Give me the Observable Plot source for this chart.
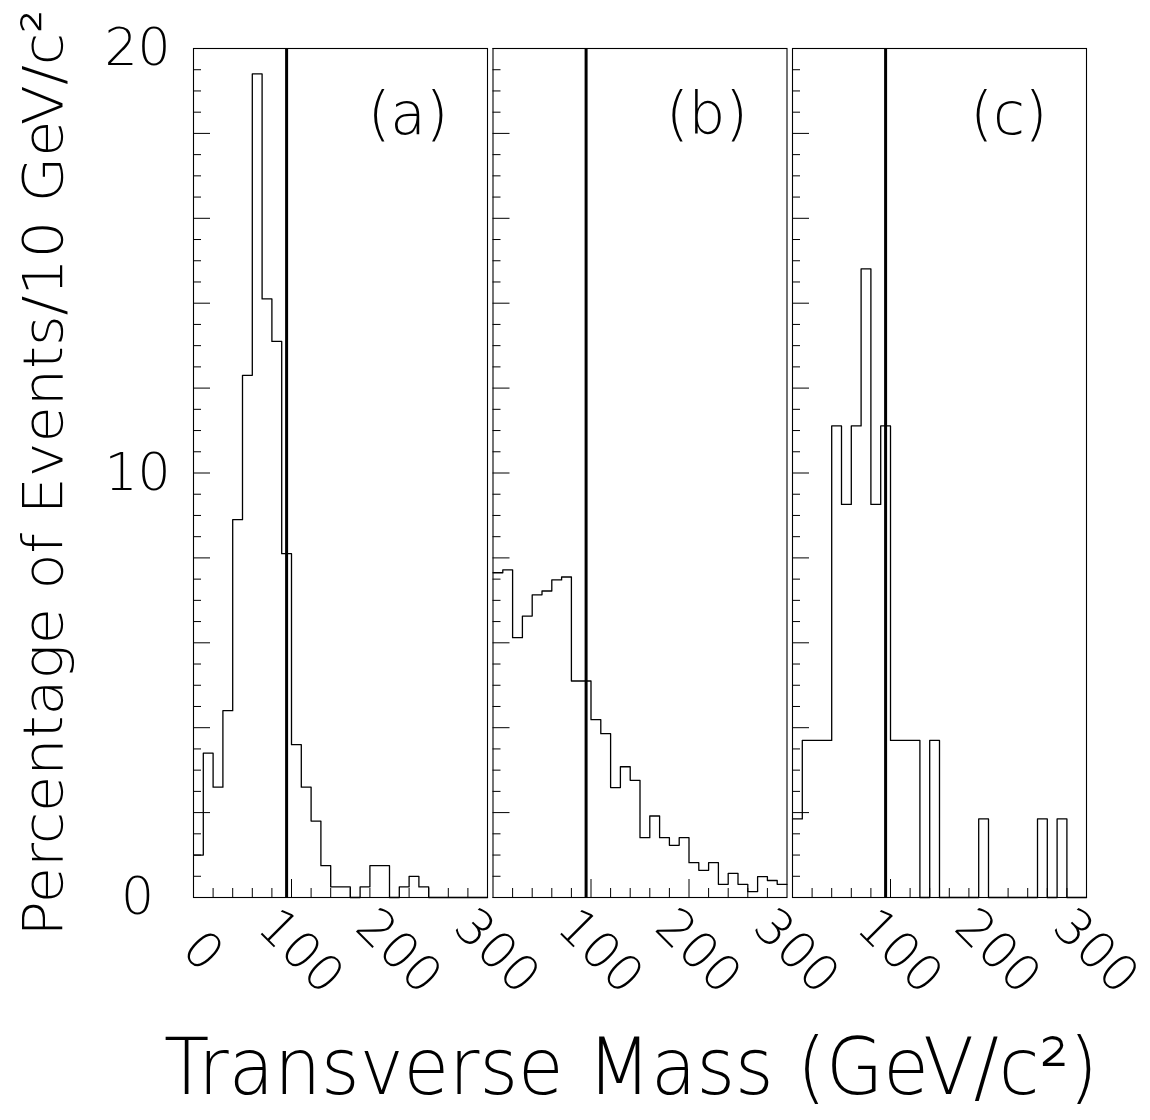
<!DOCTYPE html>
<html><head><meta charset="utf-8">
<script src="https://cdn.jsdelivr.net/npm/d3@7"></script>
<script src="https://cdn.jsdelivr.net/npm/@observablehq/plot@0.6"></script>
<style>body{margin:0;background:#fff} #chart svg{display:block}</style>
</head><body><div id="chart"></div>
<script>
// ---- data ----
const panels = ["a", "b", "c"];
const panelLabels = ["(a)", "(b)", "(c)"];
const binStart = [0, 10, 20, 30, 40, 50, 60, 70, 80, 90, 100, 110, 120, 130, 140, 150, 160, 170, 180, 190, 200, 210, 220, 230, 240, 250, 260, 270, 280, 290];
const binEnd = 300;
const panelA = [1.0, 3.4, 2.6, 4.4, 8.9, 12.3, 19.4, 14.1, 13.1, 8.1, 3.6, 2.6, 1.8, 0.75, 0.25, 0.25, 0, 0.25, 0.75, 0.75, 0, 0.25, 0.5, 0.25, 0, 0, 0, 0, 0, 0];
const panelB = [7.65, 7.72, 6.12, 6.63, 7.13, 7.22, 7.48, 7.55, 5.10, 5.10, 4.19, 3.86, 2.59, 3.08, 2.76, 1.41, 1.92, 1.41, 1.23, 1.41, 0.82, 0.64, 0.82, 0.31, 0.57, 0.31, 0.14, 0.49, 0.40, 0.31];
const panelC = [1.85, 3.70, 3.70, 3.70, 11.11, 9.26, 11.11, 14.81, 9.26, 11.11, 3.70, 3.70, 3.70, 0, 3.70, 0, 0, 0, 0, 1.85, 0, 0, 0, 0, 0, 1.85, 0, 1.85, 0, 0];
const cutValue = [95];
const yLabelValues = [0, 10, 20];
const yMajorTicks = [0, 2, 4, 6, 8, 10, 12, 14, 16, 18, 20];
const yMinorTicks = [0.5, 1, 1.5, 2.5, 3, 3.5, 4.5, 5, 5.5, 6.5, 7, 7.5, 8.5, 9, 9.5, 10.5, 11, 11.5, 12.5, 13, 13.5, 14.5, 15, 15.5, 16.5, 17, 17.5, 18.5, 19, 19.5];
const xMinorTicks = [20, 40, 60, 80, 120, 140, 160, 180, 220, 240, 260, 280];
const xMajorTicks = [100, 200];
const xTickLabels = [0, 100, 200, 300];
const yTitle = "Percentage of Events/10 GeV/c²";
const xTitle = "Transverse Mass (GeV/c²)";

// ---- tables ----
const seriesOf = {a: panelA, b: panelB, c: panelC};
const rows = panels.flatMap(p => {
  const v = seriesOf[p];
  return [...binStart.map((x, i) => ({panel: p, x, y: v[i]})), {panel: p, x: binEnd, y: v[v.length - 1]}];
});
const xLabelRows = panels.flatMap(p => xTickLabels.filter(v => p === "a" || v !== 0).map(v => ({panel: p, v})));

// ---- layout ----
const W = 1150, H = 1120;
const mL = 193, mR = 64, mT = 48, mB = 223;
const gap = 5.5;
const PW = (W - mL - mR - 2 * gap) / 3;
const FH = H - mT - mB;
const font = {fontFamily: "'DejaVu Sans', sans-serif", fontWeight: 200, fill: "#000"};

const chart = Plot.plot({
  width: W, height: H,
  marginLeft: mL, marginRight: mR, marginTop: mT, marginBottom: mB,
  fx: {domain: panels, paddingInner: gap / (PW + gap), paddingOuter: 0, round: false, axis: null, label: null},
  x: {domain: [0, 300], axis: null},
  y: {domain: [0, 20], axis: null},
  marks: [
    Plot.frame({stroke: "#000", strokeWidth: 1.1}),
    Plot.tickY(yMinorTicks, {y: d => d, insetRight: PW - 8, stroke: "#000", strokeWidth: 1}),
    Plot.tickY(yMajorTicks, {y: d => d, insetRight: PW - 17, stroke: "#000", strokeWidth: 1}),
    Plot.tickX(xMinorTicks, {x: d => d, insetTop: FH - 9, stroke: "#000", strokeWidth: 1}),
    Plot.tickX(xMajorTicks, {x: d => d, insetTop: FH - 18, stroke: "#000", strokeWidth: 1}),
    Plot.ruleX(cutValue, {x: d => d, stroke: "#000", strokeWidth: 3}),
    Plot.line(rows, {x: "x", y: "y", fx: "panel", curve: "step-after", stroke: "#000", strokeWidth: 1.3}),
    Plot.text(panels, {fx: d => d, text: (d, i) => panelLabels[i], frameAnchor: "top-right", dx: -39, dy: 67, textAnchor: "end", lineAnchor: "middle", fontSize: 58, ...font}),
    Plot.text(yLabelValues, {fx: () => "a", y: d => d, text: d => String(d), frameAnchor: "left", dx: -56, textAnchor: "middle", lineAnchor: "middle", fontSize: 52, ...font}),
    Plot.text(xLabelRows, {fx: "panel", x: "v", text: d => String(d.v), frameAnchor: "bottom", dx: 9, dy: 54, rotate: 45, textAnchor: "middle", lineAnchor: "middle", fontSize: 50, ...font}),
    Plot.text([yTitle], {fx: () => "a", text: d => d, frameAnchor: "left", dx: -149, rotate: -90, textAnchor: "middle", lineAnchor: "middle", fontSize: 56, ...font}),
    Plot.text([xTitle], {fx: () => "b", text: d => d, frameAnchor: "bottom", dx: -9, dy: 172, textAnchor: "middle", lineAnchor: "middle", fontSize: 78, ...font})
  ]
});
document.getElementById("chart").appendChild(chart);

// stretch the two axis titles to the reference widths
d3.select(chart).selectAll("text").each(function() {
  if (this.textContent === yTitle) d3.select(this).attr("textLength", 927).attr("lengthAdjust", "spacingAndGlyphs");
  if (this.textContent === xTitle) d3.select(this).attr("textLength", 934).attr("lengthAdjust", "spacingAndGlyphs");
});
</script>
</body></html>
